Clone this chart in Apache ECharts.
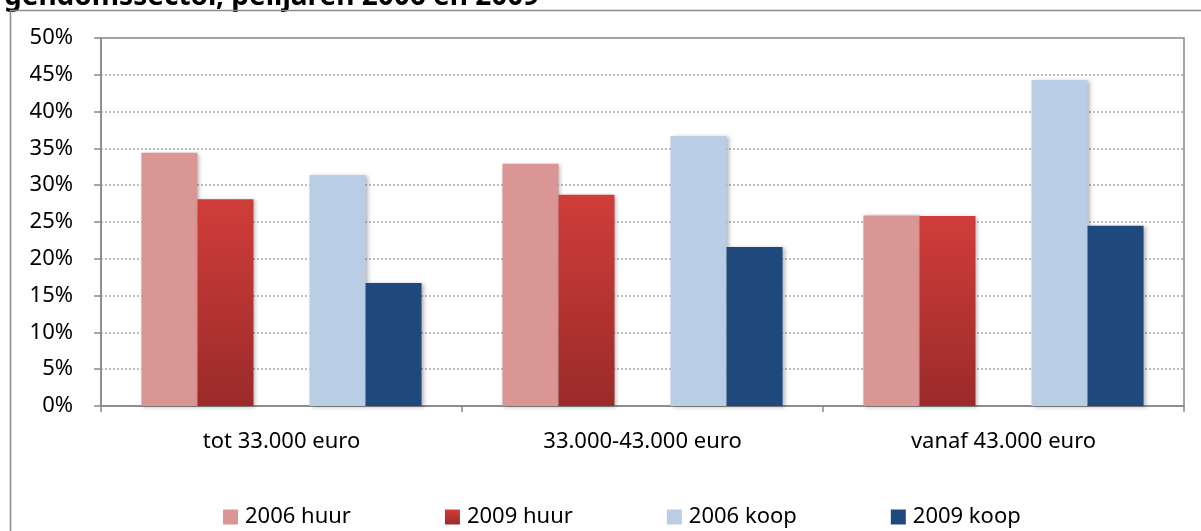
<!DOCTYPE html>
<html>
<head>
<meta charset="utf-8">
<script src="https://cdn.jsdelivr.net/npm/echarts@6/dist/echarts.min.js"></script>
<style>
html,body{margin:0;padding:0;background:#fff;}
#chart{width:1201px;height:531px;}
</style>
</head>
<body>
<div id="chart"></div>
<script>
const titleText = 'gendomssector, peiljaren 2006 en 2009';
const categories = ['tot 33.000 euro', '33.000-43.000 euro', 'vanaf 43.000 euro'];
const seriesNames = ['2006 huur', '2009 huur', '2006 koop', '2009 koop'];
const huur2006 = [34.4, 32.9, 25.9];
const huur2009 = [28.1, 28.7, 25.8];
const koop2006 = [31.4, 36.7, 44.3];
const koop2009 = [16.7, 21.6, 24.5];
const spacer = [null, null, null];
const yTicks = [0, 5, 10, 15, 20, 25, 30, 35, 40, 45, 50];

const FONT = '"Noto Sans", "Liberation Sans", sans-serif';
const chart = echarts.init(document.getElementById('chart'), null, {renderer: 'canvas'});

const shadow = {shadowBlur: 4, shadowColor: 'rgba(0,0,0,0.28)', shadowOffsetX: 2, shadowOffsetY: 1};
const red09 = new echarts.graphic.LinearGradient(0, 0, 0, 1, [
  {offset: 0, color: '#D03D3A'},
  {offset: 1, color: '#9A2B2A'}
]);

function bar(name, data, style) {
  return {
    name: name, type: 'bar', data: data,
    barGap: '0%', barCategoryGap: '22.4%',
    itemStyle: Object.assign({}, shadow, style),
    emphasis: {disabled: true}
  };
}

chart.setOption({
  animation: false,
  graphic: [
    {type: 'rect', shape: {x: 10.5, y: 10.5, width: 1220, height: 560},
     style: {fill: 'none', stroke: '#8a8a8a', lineWidth: 1.5}, silent: true, z: 1},
    {type: 'text', x: 4, y: -17, z: 0,
     style: {text: titleText, font: 'bold 28px ' + FONT, fill: '#000',
             verticalAlign: 'top', align: 'left'}, silent: true}
  ],
  grid: {left: 101, right: 17, top: 38, bottom: 125, show: true,
         borderColor: '#888', borderWidth: 1.5, backgroundColor: 'transparent'},
  legend: {
    data: seriesNames, left: 218, top: 501, itemWidth: 15, itemHeight: 15,
    itemGap: 94, icon: 'rect',
    textStyle: {fontFamily: FONT, fontSize: 22, color: '#000', padding: [0, 0, 0, 2]}
  },
  xAxis: {
    type: 'category', data: categories, boundaryGap: true,
    axisLine: {lineStyle: {color: '#888', width: 1.5}},
    axisTick: {show: true, length: 6, alignWithLabel: false, lineStyle: {color: '#888', width: 1.5}},
    axisLabel: {fontFamily: FONT, fontSize: 22, color: '#000', margin: 25}
  },
  yAxis: {
    type: 'value', min: 0, max: 50, interval: 5,
    axisLine: {show: true, lineStyle: {color: '#888', width: 1.5}},
    axisTick: {show: true, length: 7, lineStyle: {color: '#888', width: 1.5}},
    axisLabel: {fontFamily: FONT, fontSize: 22, color: '#000', margin: 28,
                formatter: function (v) { return yTicks.indexOf(v) >= 0 ? v + '%' : ''; }},
    splitLine: {show: true, lineStyle: {color: '#a8a8a8', width: 1.5, type: [2, 2]}}
  },
  series: [
    bar(seriesNames[0], huur2006, {color: '#D99694'}),
    bar(seriesNames[1], huur2009, {color: red09}),
    {name: 'spacer', type: 'bar', data: spacer, barGap: '0%', barCategoryGap: '22.4%', silent: true},
    bar(seriesNames[2], koop2006, {color: '#B9CDE5'}),
    bar(seriesNames[3], koop2009, {color: '#1F497D'})
  ]
});
</script>
</body>
</html>
